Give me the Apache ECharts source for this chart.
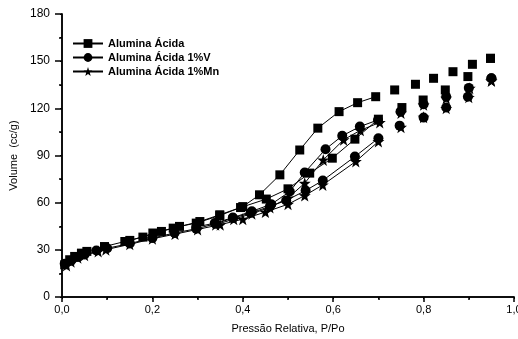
<!DOCTYPE html>
<html>
<head>
<meta charset="utf-8">
<script src="https://cdn.jsdelivr.net/npm/echarts@6/dist/echarts.min.js"></script>
<style>html,body{margin:0;padding:0;background:#fff}#c{width:518px;height:339px}</style>
</head>
<body>
<div id="c"></div>
<script>
// Series names
const seriesNames = ['Alumina Ácida', 'Alumina Ácida 1%V', 'Alumina Ácida 1%Mn'];
// Axis ticks
const xTicks = [0, 0.2, 0.4, 0.6, 0.8, 1.0];
const yTicks = [0, 30, 60, 90, 120, 150, 180];

// Alumina Ácida (squares): adsorption and desorption branches [P/Po, volume]
const sqAds = [[0.006,20.5],[0.017,23.7],[0.028,25.8],[0.043,27.9],[0.055,29],[0.094,32.1],[0.139,35.3],[0.179,38.1],[0.201,40.7],[0.246,43.8],[0.305,48],[0.349,52.3],[0.395,56.9],[0.452,62.3],[0.5,68.8],[0.548,78.8],[0.598,88.3],[0.648,100.4],[0.70,113.1],[0.752,120.5],[0.799,125.3],[0.848,131.7],[0.898,140.2],[0.948,151.8]];
const sqDes = [[0.948,151.8],[0.908,148],[0.865,143.3],[0.822,139.1],[0.782,135.3],[0.736,131.7],[0.694,127.4],[0.654,123.6],[0.613,117.9],[0.566,107.4],[0.526,93.5],[0.482,77.7],[0.437,65],[0.40,57.5],[0.349,51.8],[0.297,47],[0.26,44.9],[0.22,41.7],[0.15,36]];

// Alumina Ácida 1%V (circles)
const ciAds = [[0.006,21.2],[0.02,23],[0.035,25.5],[0.05,27],[0.076,29.6],[0.10,31],[0.15,34],[0.20,37.5],[0.249,40.7],[0.297,43.4],[0.34,46.6],[0.378,50.2],[0.417,53.4],[0.46,57.6],[0.496,61.4],[0.539,67.7],[0.577,74.1],[0.648,89.3],[0.70,101],[0.747,109],[0.80,114.1],[0.85,120.5],[0.898,127.4],[0.95,139.1]];
const ciDes = [[0.95,139.1],[0.90,133],[0.85,127.4],[0.80,122.6],[0.749,117.9],[0.699,112.6],[0.659,108.4],[0.62,102.5],[0.583,94],[0.537,79.2],[0.504,67.1],[0.463,59],[0.42,54.5],[0.378,50.5],[0.338,47],[0.297,44.5]];

// Alumina Ácida 1%Mn (stars)
const stAds = [[0.01,20],[0.02,22.5],[0.035,25],[0.05,26.5],[0.08,29],[0.097,30.1],[0.15,33.5],[0.20,37],[0.25,40],[0.30,43],[0.35,46],[0.40,49.5],[0.45,54],[0.50,59],[0.537,64.5],[0.577,71.3],[0.65,86.2],[0.70,98.9],[0.75,108],[0.80,114.4],[0.85,120],[0.90,127],[0.95,137.5]];
const stDes = [[0.95,137.5],[0.902,132.8],[0.85,126.4],[0.80,122.2],[0.75,117],[0.703,111],[0.66,106],[0.623,100],[0.578,87.2],[0.537,72.4],[0.50,63],[0.46,57],[0.42,53],[0.38,49.5],[0.34,46]];

const LINE_END = 0.71;
const STAR = 'path://M0,-10L2.35,-3.24L9.51,-3.09L3.8,1.24L5.88,8.09L0,4L-5.88,8.09L-3.8,1.24L-9.51,-3.09L-2.35,-3.24Z';
const symbols = ['rect', 'circle', STAR];
const sizes = [9, 10, 12];
const groups = [[sqAds, sqDes], [ciAds, ciDes], [stAds, stDes]];

const series = [];
groups.forEach((g, i) => {
  g.forEach(branch => {
    series.push({
      name: seriesNames[i], type: 'line',
      data: branch.filter(p => p[0] <= LINE_END),
      symbol: symbols[i], symbolSize: sizes[i], showAllSymbol: true,
      lineStyle: {color: '#000', width: 1}, itemStyle: {color: '#000', opacity: 1},
      animation: false
    });
  });
  series.push({
    name: seriesNames[i], type: 'scatter',
    data: g[0].concat(g[1]).filter(p => p[0] > LINE_END),
    symbol: symbols[i], symbolSize: sizes[i],
    itemStyle: {color: '#000', opacity: 1}, animation: false
  });
});

const fmt = v => v.toFixed(1).replace('.', ',');
const font = 'Liberation Sans, Arial, sans-serif';

const option = {
  animation: false,
  grid: {left: 62, right: 4, top: 14, bottom: 42, outerBoundsMode: 'none', containLabel: false},
  legend: {
    data: seriesNames, orient: 'vertical', left: 67, top: 33,
    itemWidth: 30, itemHeight: 11, itemGap: 3,
    textStyle: {fontFamily: font, fontSize: 11, fontWeight: 'bold', color: '#000'}
  },
  xAxis: [{
    type: 'value', min: xTicks[0], max: xTicks[xTicks.length-1], interval: 0.2,
    name: 'Pressão Relativa, P/Po', nameLocation: 'middle', nameGap: 26,
    nameTextStyle: {fontFamily: font, fontSize: 11, color: '#000'},
    axisLine: {lineStyle: {color: '#000', width: 1.5}},
    axisTick: {inside: false, length: 5, lineStyle: {color: '#000', width: 1.5}},
    minorTick: {show: true, splitNumber: 2, length: 3, lineStyle: {color: '#000', width: 1.5}},
    axisLabel: {formatter: fmt, fontFamily: font, fontSize: 11, color: '#000', margin: 7},
    splitLine: {show: false}
  }, {
    type: 'value', position: 'top', min: 0, max: 1, interval: 0.1,
    axisLine: {show: true, lineStyle: {color: '#000', width: 1.5}},
    axisTick: {inside: true, length: 2, lineStyle: {color: '#000', width: 1}},
    axisLabel: {show: false}, splitLine: {show: false}
  }],
  yAxis: [{
    type: 'value', min: yTicks[0], max: yTicks[yTicks.length-1], interval: 30,
    name: 'Volume  (cc/g)', nameLocation: 'middle', nameGap: 37,
    nameTextStyle: {fontFamily: font, fontSize: 11, color: '#000'},
    axisLine: {show: true, lineStyle: {color: '#000', width: 1.5}},
    axisTick: {show: true, inside: false, length: 7, lineStyle: {color: '#000', width: 1.5}},
    minorTick: {show: true, splitNumber: 2, length: 3, lineStyle: {color: '#000', width: 1.5}},
    axisLabel: {fontFamily: font, fontSize: 12, color: '#000', margin: 12},
    splitLine: {show: false}
  }, {
    type: 'value', position: 'right', min: 0, max: 180, interval: 15,
    axisLine: {show: true, lineStyle: {color: '#000', width: 1.5}},
    axisTick: {show: true, inside: true, length: 2, lineStyle: {color: '#000', width: 1}},
    axisLabel: {show: false}, splitLine: {show: false}
  }],
  series: series
};
const chart = echarts.init(document.getElementById('c'), null, {renderer: 'canvas'});
chart.setOption(option);
</script>
</body>
</html>
